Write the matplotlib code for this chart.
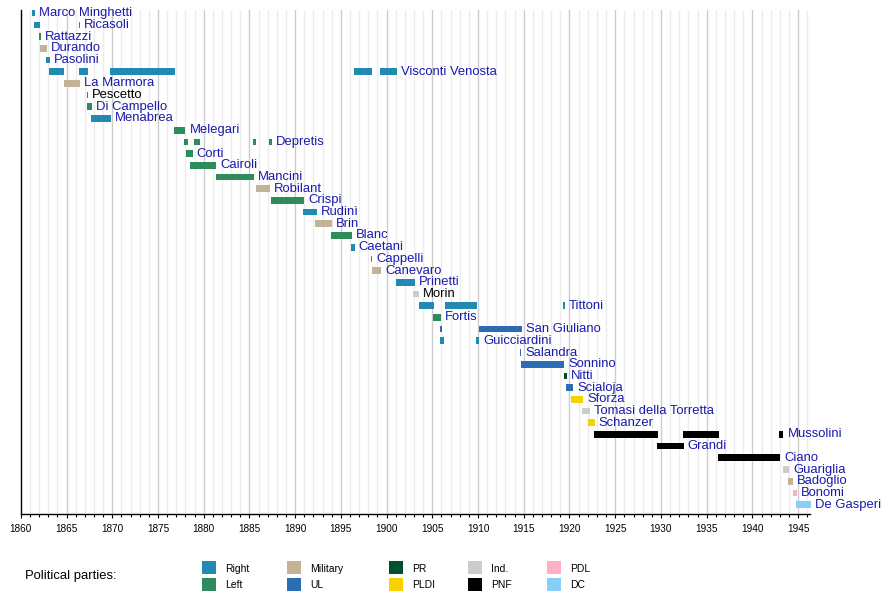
import matplotlib
matplotlib.use('Agg')
import matplotlib.pyplot as plt
from matplotlib.patches import Rectangle

plt.rcParams['font.family'] = ['Liberation Sans', 'DejaVu Sans']

# Ministri, in ordine di prima nomina
names = ['Marco Minghetti', 'Ricasoli', 'Rattazzi', 'Durando', 'Pasolini',
         'Visconti Venosta', 'La Marmora', 'Pescetto', 'Di Campello', 'Menabrea',
         'Melegari', 'Depretis', 'Corti', 'Cairoli', 'Mancini', 'Robilant',
         'Crispi', 'Rudinì', 'Brin', 'Blanc', 'Caetani', 'Cappelli', 'Canevaro',
         'Prinetti', 'Morin', 'Tittoni', 'Fortis', 'San Giuliano', 'Guicciardini',
         'Salandra', 'Sonnino', 'Nitti', 'Scialoja', 'Sforza',
         'Tomasi della Torretta', 'Schanzer', 'Mussolini', 'Grandi', 'Ciano',
         'Guariglia', 'Badoglio', 'Bonomi', 'De Gasperi']

# periodi in carica (inizio, fine) per ogni ministro
terms = [
    [(1861.2, 1861.5)],
    [(1861.4, 1862.1), (1866.4, 1866.5)],
    [(1862.0, 1862.2)],
    [(1862.1, 1862.9)],
    [(1862.8, 1863.2)],
    [(1863.1, 1864.75), (1866.4, 1867.3), (1869.8, 1876.9), (1896.4, 1898.4), (1899.3, 1901.1)],
    [(1864.7, 1866.5)],
    [(1867.2, 1867.3)],
    [(1867.2, 1867.8)],
    [(1867.7, 1869.9)],
    [(1876.8, 1878.0)],
    [(1877.9, 1878.25), (1878.9, 1879.55), (1885.4, 1885.75), (1887.1, 1887.5)],
    [(1878.1, 1878.8)],
    [(1878.45, 1881.4)],
    [(1881.3, 1885.5)],
    [(1885.7, 1887.2)],
    [(1887.4, 1891.0)],
    [(1890.9, 1892.35)],
    [(1892.2, 1894.0)],
    [(1893.9, 1896.2)],
    [(1896.1, 1896.5)],
    [(1898.3, 1898.45)],
    [(1898.4, 1899.4)],
    [(1901.0, 1903.1)],
    [(1902.9, 1903.5)],
    [(1903.5, 1905.2), (1906.4, 1909.9), (1919.3, 1919.5)],
    [(1905.05, 1905.95)],
    [(1905.85, 1906.05), (1910.1, 1914.8)],
    [(1905.85, 1906.3), (1909.8, 1910.15)],
    [(1914.6, 1914.75)],
    [(1914.7, 1919.4)],
    [(1919.4, 1919.7)],
    [(1919.6, 1920.4)],
    [(1920.2, 1921.5)],
    [(1921.4, 1922.2)],
    [(1922.05, 1922.75)],
    [(1922.7, 1929.7), (1932.45, 1936.35), (1942.95, 1943.4)],
    [(1929.6, 1932.5)],
    [(1936.25, 1943.05)],
    [(1943.4, 1944.0)],
    [(1943.9, 1944.4)],
    [(1944.4, 1944.9)],
    [(1944.8, 1946.45)],
]

parties = ['Right', 'Right', 'Left', 'Military', 'Right', 'Right', 'Military',
           'Left', 'Left', 'Right', 'Left', 'Left', 'Left', 'Left', 'Left',
           'Military', 'Left', 'Right', 'Military', 'Left', 'Right', 'Right',
           'Military', 'Right', 'Ind.', 'Right', 'Left', 'UL', 'Right', 'UL',
           'UL', 'PR', 'UL', 'PLDI', 'Ind.', 'PLDI', 'PNF', 'PNF', 'PNF',
           'Ind.', 'Military', 'PDL', 'DC']

no_link = ['Pescetto', 'Morin']

party_names = ['Right', 'Left', 'Military', 'UL', 'PR', 'PLDI', 'Ind.', 'PNF', 'PDL', 'DC']
party_colors = {'Right': '#2389b3', 'Left': '#2e8b5c', 'Military': '#c4b296',
                'UL': '#2b6cb5', 'PR': '#00512f', 'PLDI': '#f7d100',
                'Ind.': '#cccccc', 'PNF': '#000000', 'PDL': '#ffb1c3', 'DC': '#87cefa'}

W, H = 890, 594
fig = plt.figure(figsize=(W/100, H/100), dpi=100)
x0, x1, ytop, ybot = 20.8, 810, 10, 514
ax = fig.add_axes([x0/W, 1 - ybot/H, (x1 - x0)/W, (ybot - ytop)/H])

# griglia verticale
for yr in range(1861, 1947):
    if yr % 5 == 0:
        ax.axvline(yr, color='#cccccc', lw=1, zorder=0)
    else:
        ax.axvline(yr, color='#ececec', lw=1, zorder=0)

for i in range(len(names)):
    col = party_colors[parties[i]]
    for (a, b) in terms[i]:
        ax.barh(i, b - a, left=a, height=0.57, color=col, zorder=2, clip_on=False)
    end = max(b for (a, b) in terms[i])
    tc = 'black' if names[i] in no_link else '#1a1aad'
    ax.annotate(names[i], (end, i), xytext=(4, 0), textcoords='offset pixels',
                va='center', ha='left', fontsize=9.4, color=tc, zorder=3,
                annotation_clip=False)

ax.set_xlim(1860, 1946.3)
ax.set_ylim(len(names) - 0.2, -0.27)
ax.set_yticks([])
ax.set_xticks(range(1860, 1946, 5))
ax.set_xticks(range(1860, 1947), minor=True)
ax.tick_params(axis='x', which='major', length=3, width=0.8, labelsize=7.2, pad=4)
ax.tick_params(axis='x', which='minor', length=2.5, width=0.8)
ax.spines['top'].set_visible(False)
ax.spines['right'].set_visible(False)
ax.spines['left'].set_linewidth(1)
ax.spines['bottom'].set_linewidth(1)

# legenda
fig.text(25/W, 1 - 576/H, 'Political parties:', fontsize=9.4, va='center', ha='left')
col_x = [202, 287, 389, 468, 547]
row_y = [567.5, 584.5]
for k, p in enumerate(party_names):
    cx = col_x[k // 2]
    cy = row_y[k % 2]
    fig.add_artist(Rectangle((cx/W, 1 - (cy + 6.5)/H), 14/W, 13/H,
                             transform=fig.transFigure, color=party_colors[p], lw=0))
    fig.text((cx + 23)/W, 1 - (cy + 1)/H, p, fontsize=7.5, va='center', ha='left')

plt.savefig('out.png', dpi=100)
